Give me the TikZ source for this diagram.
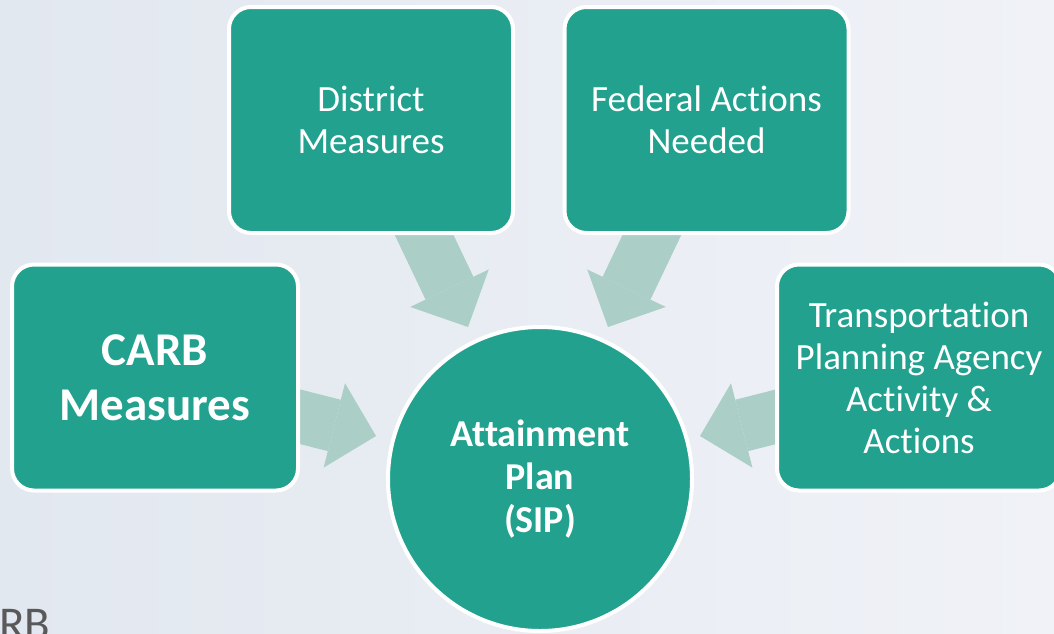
\documentclass[tikz,border=0pt]{standalone}
\usepackage{fontspec}
\setmainfont{Carlito}[Ligatures=NoCommon]
\usepackage{tikz}
\usetikzlibrary{shapes}
\usetikzlibrary{arrows.meta}
\definecolor{sipteal}{RGB}{33,161,142}
\definecolor{sipflow}{RGB}{171,206,199}
\definecolor{sipgray}{RGB}{89,89,89}
\tikzset{measure/.style={rectangle, rounded corners=22pt, fill=sipteal, draw=white, line width=4pt, text=white, align=center, minimum width=284pt, minimum height=226pt, font=\fontsize{37}{42}\selectfont}}
\tikzset{plan/.style={circle, fill=sipteal, draw=white, line width=4pt, text=white, align=center, minimum size=304pt, font=\bfseries\fontsize{38}{43}\selectfont}}
\tikzset{flow/.style={draw=sipflow, line width=53pt, line cap=butt, -{Triangle[length=43pt, width=87pt, line width=0pt]}}}

\begin{document}
\begin{tikzpicture}[x=1pt,y=-1pt]
  % background
  \path[left color={rgb,255:red,226;green,232;blue,240}, middle color={rgb,255:red,249;green,250;blue,252}, right color={rgb,255:red,240;green,242;blue,247}] (0,0) rectangle (1054,633);
  \useasboundingbox (0,0) rectangle (1054,633);
  % arrow ends
  \foreach \x/\y/\lab in {
    407.7/200.6/dtail,
    468/327/dtip,
    668.3/200.6/ftail,
    608/327/ftip,
    240.3/401.6/ctail,
    376/436/ctip,
    835.7/401.6/ttail,
    700/436/ttip%
  } {
    \coordinate (\lab) at (\x, \y);
  }
  \foreach \u/\v in {
    dtail/dtip,
    ftail/ftip,
    ctail/ctip,
    ttail/ttip%
  }{
    \draw[flow] (\u) -- (\v);
  }
  % boxes
  \node[measure] (district) at (371,120) {District\\Measures};
  \node[measure] (federal) at (706.5,120) {Federal Actions\\Needed};
  \node[measure, minimum width=286pt, font=\bfseries\fontsize{47}{55}\selectfont] (carb) at (155,377.5) {CARB\\Measures};
  \node[measure] (transport) at (919,377.5) {Transportation\\Planning Agency\\Activity \&\\Actions};
  \node[plan] (sip) at (540,479) {Attainment\\Plan\\(SIP)};
  \node[anchor=base west, inner sep=0pt, text=sipgray, font=\fontsize{47}{56}\selectfont] (carbtag) at (-1,639) {RB};
\end{tikzpicture}
\end{document}
